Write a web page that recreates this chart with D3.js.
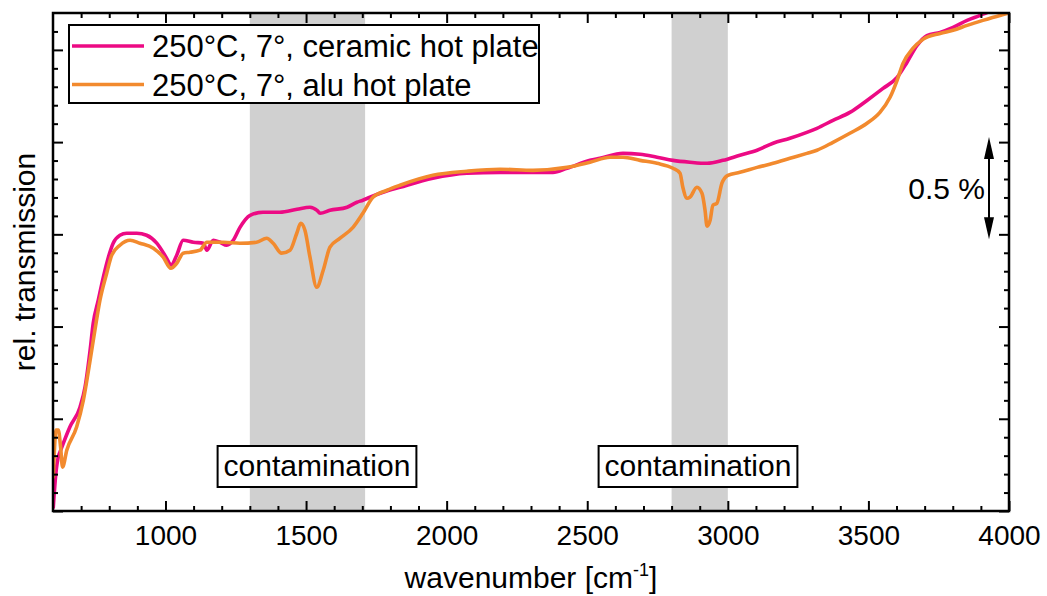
<!DOCTYPE html>
<html>
<head>
<meta charset="utf-8">
<script src="https://cdn.jsdelivr.net/npm/d3@7"></script>
<style>
  html, body { margin: 0; padding: 0; background: #fff; }
  svg { display: block; font-family: "Liberation Sans", Arial, sans-serif; }
</style>
</head>
<body>
<svg id="chart" width="1047" height="596"></svg>
<script>
// Wavenumber axis range and tick values
const xDomain = [600, 4000];
const xMajorTicks = [1000, 1500, 2000, 2500, 3000, 3500, 4000];
const yDomain = [0, 2.7];            // relative transmission, %
const yMajorStep = 0.5;
const scaleBarRange = [1.5, 2.0];    // 0.5 % scale bar
const scaleBarLabel = "0.5 %";

// Shaded contamination regions (cm^-1)
const contaminationBands = [[1300, 1710], [2800, 3000]];
const contaminationLabels = ["contamination", "contamination"];

// Series: ceramic hot plate
const ceramicWavenumber = [601, 610, 620, 625, 660, 696, 714, 732, 743, 761, 779, 797, 814, 838, 862, 898, 933, 969, 1004, 1020, 1040, 1063, 1099, 1135, 1147, 1170, 1194, 1218, 1241, 1265, 1301, 1347, 1407, 1468, 1514, 1539, 1550, 1585, 1646, 1681, 1702, 1727, 1774, 1834, 1951, 2072, 2190, 2307, 2378, 2428, 2510, 2545, 2627, 2688, 2748, 2805, 2865, 2926, 2983, 3043, 3104, 3161, 3221, 3281, 3317, 3374, 3434, 3495, 3552, 3602, 3637, 3673, 3708, 3755, 3801, 3851, 3897, 3922, 4000];
const ceramicValue = [0.02, 0.20, 0.30, 0.32, 0.455, 0.563, 0.672, 0.872, 1.018, 1.143, 1.268, 1.376, 1.452, 1.495, 1.506, 1.506, 1.495, 1.452, 1.371, 1.333, 1.387, 1.468, 1.457, 1.452, 1.414, 1.468, 1.457, 1.441, 1.468, 1.538, 1.603, 1.620, 1.620, 1.636, 1.647, 1.630, 1.614, 1.630, 1.647, 1.674, 1.685, 1.701, 1.728, 1.755, 1.804, 1.831, 1.836, 1.836, 1.836, 1.858, 1.901, 1.912, 1.939, 1.934, 1.918, 1.901, 1.891, 1.885, 1.901, 1.929, 1.956, 1.994, 2.021, 2.053, 2.075, 2.118, 2.161, 2.226, 2.291, 2.351, 2.432, 2.524, 2.578, 2.595, 2.622, 2.660, 2.687, 2.703, 2.73];

// Series: alu hot plate
const aluWavenumber = [601, 611, 619, 627, 634, 649, 684, 708, 732, 749, 767, 791, 809, 838, 874, 909, 957, 992, 1019, 1040, 1063, 1087, 1123, 1147, 1206, 1265, 1324, 1360, 1383, 1413, 1443, 1467, 1481, 1496, 1514, 1538, 1561, 1585, 1621, 1667, 1702, 1738, 1788, 1834, 1951, 2072, 2190, 2307, 2428, 2510, 2581, 2627, 2688, 2748, 2805, 2830, 2840, 2855, 2865, 2890, 2908, 2919, 2926, 2937, 2947, 2961, 2979, 3000, 3043, 3104, 3161, 3221, 3281, 3317, 3374, 3434, 3495, 3541, 3577, 3602, 3623, 3658, 3694, 3755, 3801, 3851, 3907, 3968, 3996];
const aluValue = [0.184, 0.439, 0.439, 0.347, 0.238, 0.330, 0.455, 0.601, 0.818, 0.980, 1.143, 1.289, 1.387, 1.441, 1.468, 1.452, 1.425, 1.376, 1.316, 1.343, 1.398, 1.403, 1.414, 1.457, 1.457, 1.452, 1.457, 1.479, 1.452, 1.398, 1.414, 1.506, 1.560, 1.522, 1.376, 1.213, 1.305, 1.430, 1.479, 1.538, 1.614, 1.701, 1.739, 1.766, 1.820, 1.842, 1.853, 1.847, 1.863, 1.891, 1.918, 1.918, 1.901, 1.885, 1.858, 1.831, 1.755, 1.696, 1.701, 1.755, 1.723, 1.631, 1.544, 1.576, 1.658, 1.668, 1.777, 1.820, 1.836, 1.863, 1.885, 1.912, 1.939, 1.956, 1.999, 2.048, 2.102, 2.161, 2.243, 2.335, 2.427, 2.508, 2.557, 2.589, 2.606, 2.633, 2.660, 2.687, 2.698];

const seriesNames = ["250°C, 7°, ceramic hot plate", "250°C, 7°, alu hot plate"];
const seriesColors = ["#ec0a84", "#f28a2e"];

// ---- layout ----
const svg = d3.select("#chart");
const plotLeft = 53, plotRight = 1009, plotTop = 13, plotBottom = 511;
const font = 30;

const x = d3.scaleLinear().domain(xDomain).range([plotLeft, plotRight]);
const y = d3.scaleLinear().domain(yDomain).range([plotBottom, plotTop]);

svg.append("defs").append("clipPath").attr("id", "plotClip")
  .append("rect").attr("x", plotLeft).attr("y", plotTop)
  .attr("width", plotRight - plotLeft).attr("height", plotBottom - plotTop);

// shaded bands
svg.append("g").selectAll("rect").data(contaminationBands).join("rect")
  .attr("x", d => x(d[0])).attr("y", plotTop)
  .attr("width", d => x(d[1]) - x(d[0])).attr("height", plotBottom - plotTop)
  .attr("fill", "#d0d0d0");

// spectra
const series = [
  { wn: ceramicWavenumber, v: ceramicValue },
  { wn: aluWavenumber, v: aluValue }
];
const line = d3.line().x(d => x(d[0])).y(d => y(d[1])).curve(d3.curveMonotoneX);
const plot = svg.append("g").attr("clip-path", "url(#plotClip)");
series.forEach((s, i) => {
  plot.append("path")
    .datum(s.wn.map((w, j) => [w, s.v[j]]))
    .attr("fill", "none")
    .attr("stroke", seriesColors[i])
    .attr("stroke-width", 3.6)
    .attr("stroke-linejoin", "round")
    .attr("stroke-linecap", "round")
    .attr("d", line);
});

// contamination label boxes
const labelG = svg.append("g");
const labelCenters = [317, 698];
contaminationLabels.forEach((label, i) => {
  const t = labelG.append("text")
    .attr("x", labelCenters[i]).attr("y", 476)
    .attr("text-anchor", "middle")
    .attr("font-size", font)
    .text(label);
  const bb = t.node().getBBox();
  labelG.insert("rect", "text")
    .attr("x", bb.x - 6).attr("y", 446)
    .attr("width", bb.width + 12).attr("height", 41)
    .attr("fill", "#fff").attr("stroke", "#000").attr("stroke-width", 2);
});

// axes with inward ticks on all sides
const xMinor = d3.range(700, 4000, 100).filter(v => v % 500 !== 0);
const yMajor = d3.range(yDomain[0], yDomain[1] + 1e-9, yMajorStep);
const yMinor = d3.range(0.1, yDomain[1], 0.1).filter(v => Math.abs(v / yMajorStep - Math.round(v / yMajorStep)) > 1e-6);

function styleAxis(g) {
  g.select(".domain").remove();
  g.selectAll(".tick line").attr("stroke", "#000").attr("stroke-width", 2);
  g.selectAll("text").attr("font-size", 28).attr("fill", "#000")
    .attr("font-family", "Liberation Sans, Arial, sans-serif");
}

svg.append("g").attr("transform", `translate(0,${plotBottom})`)
  .call(d3.axisBottom(x).tickValues(xMajorTicks).tickSize(-10).tickPadding(14).tickFormat(d3.format("d")))
  .call(styleAxis);
svg.append("g").attr("transform", `translate(0,${plotBottom})`)
  .call(d3.axisBottom(x).tickValues(xMinor).tickSize(-5).tickFormat(""))
  .call(styleAxis);
svg.append("g").attr("transform", `translate(0,${plotTop})`)
  .call(d3.axisTop(x).tickValues(xMajorTicks).tickSize(-10).tickFormat(""))
  .call(styleAxis);
svg.append("g").attr("transform", `translate(0,${plotTop})`)
  .call(d3.axisTop(x).tickValues(xMinor).tickSize(-5).tickFormat(""))
  .call(styleAxis);
svg.append("g").attr("transform", `translate(${plotLeft},0)`)
  .call(d3.axisLeft(y).tickValues(yMajor).tickSize(-10).tickFormat(""))
  .call(styleAxis);
svg.append("g").attr("transform", `translate(${plotLeft},0)`)
  .call(d3.axisLeft(y).tickValues(yMinor).tickSize(-5).tickFormat(""))
  .call(styleAxis);
svg.append("g").attr("transform", `translate(${plotRight},0)`)
  .call(d3.axisRight(y).tickValues(yMajor).tickSize(-10).tickFormat(""))
  .call(styleAxis);
svg.append("g").attr("transform", `translate(${plotRight},0)`)
  .call(d3.axisRight(y).tickValues(yMinor).tickSize(-5).tickFormat(""))
  .call(styleAxis);

// frame
svg.append("rect").attr("x", plotLeft).attr("y", plotTop)
  .attr("width", plotRight - plotLeft).attr("height", plotBottom - plotTop)
  .attr("fill", "none").attr("stroke", "#000").attr("stroke-width", 2.5);

// axis titles
const xt = svg.append("text").attr("x", (plotLeft + plotRight) / 2).attr("y", 588)
  .attr("text-anchor", "middle").attr("font-size", font);
xt.append("tspan").text("wavenumber [cm");
xt.append("tspan").attr("font-size", 18).attr("dy", -12).text("-1");
xt.append("tspan").attr("dy", 12).text("]");

svg.append("text")
  .attr("transform", `translate(35,${(plotTop + plotBottom) / 2}) rotate(-90)`)
  .attr("text-anchor", "middle").attr("font-size", font)
  .text("rel. transmission");

// scale bar
const barX = 989;
const sb = svg.append("g");
sb.append("line").attr("x1", barX).attr("x2", barX)
  .attr("y1", y(scaleBarRange[1]) + 10).attr("y2", y(scaleBarRange[0]) - 10)
  .attr("stroke", "#000").attr("stroke-width", 2);
const arrowTop = y(scaleBarRange[1]) - 5, arrowBot = y(scaleBarRange[0]) + 5;
sb.append("path").attr("d", `M${barX},${arrowTop} L${barX - 5},${arrowTop + 22} L${barX + 5},${arrowTop + 22} Z`).attr("fill", "#000");
sb.append("path").attr("d", `M${barX},${arrowBot} L${barX - 5},${arrowBot - 22} L${barX + 5},${arrowBot - 22} Z`).attr("fill", "#000");
sb.append("text").attr("x", 985).attr("y", 199)
  .attr("text-anchor", "end").attr("font-size", font).text(scaleBarLabel);

// legend
const lg = svg.append("g");
lg.append("rect").attr("x", 69).attr("y", 25).attr("width", 470).attr("height", 78)
  .attr("fill", "#fff").attr("stroke", "#000").attr("stroke-width", 2);
seriesNames.forEach((name, i) => {
  const ly = 46 + i * 38.5;
  lg.append("line").attr("x1", 72).attr("x2", 144).attr("y1", ly).attr("y2", ly)
    .attr("stroke", seriesColors[i]).attr("stroke-width", 3.6);
  lg.append("text").attr("x", 152).attr("y", ly + 11).attr("font-size", 31).text(name);
});
</script>
</body>
</html>
